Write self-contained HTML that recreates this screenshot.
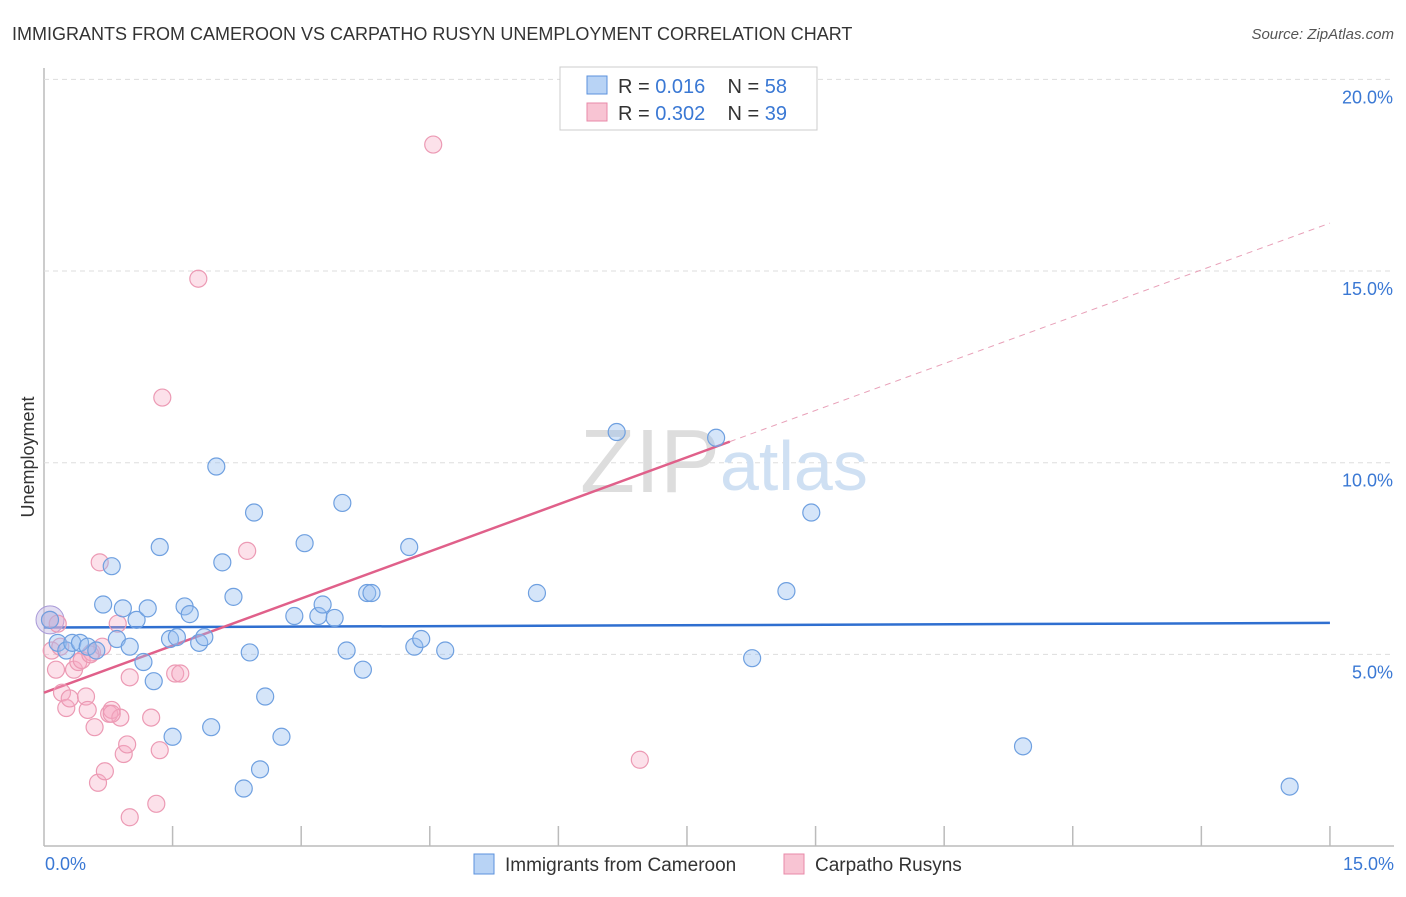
<!DOCTYPE html>
<html><head><meta charset="utf-8"><style>
body{margin:0;background:#fff;font-family:"Liberation Sans",sans-serif}
svg text{font-family:"Liberation Sans",sans-serif}
</style></head><body>
<svg id="chart" width="1406" height="892">
<text x="12" y="40" font-size="18" fill="#333">IMMIGRANTS FROM CAMEROON VS CARPATHO RUSYN UNEMPLOYMENT CORRELATION CHART</text>
<text x="1394" y="39" font-size="15" fill="#555" font-style="italic" text-anchor="end">Source: ZipAtlas.com</text>
<text x="34" y="457" font-size="18" fill="#333" transform="rotate(-90 34 457)" text-anchor="middle">Unemployment</text>
<g id="grid"></g>
<text x="720" y="492" font-size="90" fill="#ddd" text-anchor="end" font-family="Liberation Serif">ZIP</text>
<text x="720" y="490" font-size="70" fill="#cfe0f3">atlas</text>
<g id="lines"></g>
<g id="pts"></g>
<g>
<rect x="560" y="67" width="257" height="63" fill="#fff" stroke="#ccc"/>
<rect x="587" y="76" width="20" height="18" fill="#b8d3f5" stroke="#5b92dd"/>
<rect x="587" y="103" width="20" height="18" fill="#f8c4d3" stroke="#e88aa8"/>
<text x="618" y="93" font-size="20" fill="#333">R = <tspan fill="#3a78d4">0.016</tspan>&#160;&#160;&#160; N = <tspan fill="#3a78d4">58</tspan></text>
<text x="618" y="120" font-size="20" fill="#333">R = <tspan fill="#3a78d4">0.302</tspan>&#160;&#160;&#160; N = <tspan fill="#3a78d4">39</tspan></text>
</g>
<g>
<rect x="474" y="854" width="20" height="20" fill="#b8d3f5" stroke="#5b92dd"/>
<text x="505" y="871" font-size="19" fill="#333">Immigrants from Cameroon</text>
<rect x="784" y="854" width="20" height="20" fill="#f8c4d3" stroke="#e88aa8"/>
<text x="815" y="871" font-size="19" fill="#333">Carpatho Rusyns</text>
</g>
</svg>
<script>
const yTicks=[5,10,15,20];
const xTickLabels=["0.0%","15.0%"];
const blueX=[0.07,0.16,0.26,0.33,0.42,0.51,0.61,0.69,0.79,0.85,0.92,1.0,1.08,1.16,1.21,1.28,1.35,1.47,1.5,1.55,1.64,1.7,1.81,1.87,1.95,2.01,2.08,2.21,2.4,2.45,2.52,2.33,2.58,2.77,2.92,3.04,3.2,3.25,3.39,3.48,3.53,3.72,3.77,3.82,4.26,4.32,4.4,4.68,5.75,6.68,7.84,8.26,8.66,8.95,11.42,14.53];
const blueY=[5.9,5.3,5.1,5.3,5.3,5.2,5.1,6.3,7.3,5.4,6.2,5.2,5.9,4.8,6.2,4.3,7.8,5.4,2.85,5.45,6.25,6.05,5.3,5.45,3.1,9.9,7.4,6.5,5.05,8.7,2.0,1.5,3.9,2.85,6.0,7.9,6.0,6.3,5.95,8.95,5.1,4.6,6.6,6.6,7.8,5.2,5.4,5.1,6.6,10.8,10.65,4.9,6.65,8.7,2.6,1.55];
const pinkX=[0.07,0.09,0.14,0.16,0.21,0.26,0.3,0.35,0.4,0.44,0.49,0.51,0.56,0.59,0.63,0.68,0.71,0.76,0.79,0.86,0.89,0.93,0.97,1.0,1.0,1.25,1.31,1.35,1.38,1.53,1.59,1.8,2.37,4.54,6.95,0.65,0.54,0.19,0.79];
const pinkY=[5.9,5.1,4.6,5.8,4.0,3.6,3.85,4.6,4.8,4.85,3.9,3.55,5.05,3.1,1.65,5.2,1.95,3.45,3.55,5.8,3.35,2.4,2.65,4.4,0.75,3.35,1.1,2.5,11.7,4.5,4.5,14.8,7.7,18.3,2.25,7.4,5.0,5.2,3.45];
const blueLine=[[0,5.7],[15,5.82]];
const pinkLine=[[0,4.0],[8.0,10.55]];
const pinkDash=[[8.0,10.55],[15,16.25]];
const NS="http://www.w3.org/2000/svg";
const X=v=>44+v*85.73, Y=v=>846-v*38.33;
function mk(t,a,p){const e=document.createElementNS(NS,t);for(const k in a)e.setAttribute(k,a[k]);p.appendChild(e);return e;}
const g=document.getElementById('grid');
const ax=mk('line',{x1:44,y1:68,x2:44,y2:846,stroke:'#bbb','stroke-width':1.5},g);


const bx=mk('line',{x1:44,y1:846,x2:1394,y2:846,stroke:'#bbb','stroke-width':1.5},g);


yTicks.forEach(t=>{
 const l=mk('line',{x1:44,x2:1394,y1:Y(t),y2:Y(t),stroke:'#ddd','stroke-dasharray':'5,4'},g);
 
 
 const tx=mk('text',{x:1393,y:Y(t)+24,'font-size':18,fill:'#3a78d4','text-anchor':'end'},g);
 tx.textContent=t.toFixed(1)+'%';
 
 
});
for(let i=1;i<=10;i++){
 const l=mk('line',{x1:X(i*1.5),x2:X(i*1.5),y1:826,y2:846,stroke:'#bbb','stroke-width':1.5},g);
 
 
}
const t0=mk('text',{x:45,y:870,'font-size':18,fill:'#3a78d4'},g);t0.textContent=xTickLabels[0];


const t1=mk('text',{x:1394,y:870,'font-size':18,fill:'#3a78d4','text-anchor':'end'},g);t1.textContent=xTickLabels[1];


const p=document.getElementById('pts');
const big=mk('circle',{cx:X(0.07),cy:Y(5.9),r:14,fill:'rgba(200,190,230,0.5)',stroke:'#a99ad8'},p);


pinkX.forEach((v,i)=>{const c=mk('circle',{cx:X(v),cy:Y(pinkY[i]),r:8.5,fill:'rgba(245,170,195,0.35)',stroke:'#ec9ab4','stroke-width':1.2},p);

});
blueX.forEach((v,i)=>{const c=mk('circle',{cx:X(v),cy:Y(blueY[i]),r:8.5,fill:'rgba(150,190,240,0.4)',stroke:'#6fa0e0','stroke-width':1.2},p);

});
const L=document.getElementById('lines');
function ln(a,s,w,d,n){const e=mk('line',{x1:X(a[0][0]),y1:Y(a[0][1]),x2:X(a[1][0]),y2:Y(a[1][1]),stroke:s,'stroke-width':w},L);if(d)e.setAttribute('stroke-dasharray',d);

}
ln(pinkDash,'#e8a0b8',1,'6,5','pink-trend-extension');
ln(blueLine,'#2f6fd0',2.5,null,'cameroon-trend-line');
ln(pinkLine,'#e0608a',2.5,null,'rusyn-trend-line');
</script>
</body></html>
